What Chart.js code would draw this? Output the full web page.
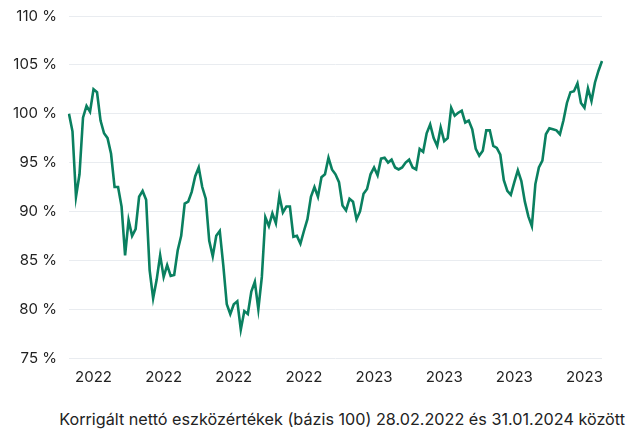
<!DOCTYPE html>
<html>
<head>
<meta charset="utf-8">
<script src="https://cdn.jsdelivr.net/npm/chart.js@4"></script>
<style>
  html, body { margin: 0; padding: 0; background: #fff; }
  #wrap { width: 628px; height: 401px; margin-top: -5px; position: relative; }
  #caption {
    width: 628px; box-sizing: border-box; padding-right: 3px;
    text-align: right; font-family: Inter, sans-serif; font-size: 16.2px;
    color: #222; margin-top: 13px; white-space: nowrap;
  }
</style>
</head>
<body>
<div id="wrap"><canvas id="chart"></canvas></div>
<div id="caption">Korrigált nettó eszközértékek (bázis 100) 28.02.2022 és 31.01.2024 között</div>
<script>
// adjusted NAV, base 100 on 28.02.2022
const navValues = [
    100, 98.2, 91.5, 93.8, 99.6, 100.8, 100.2, 102.5, 102.2, 99.3,
    98, 97.5, 95.9, 92.5, 92.5, 90.5, 85.5, 89.1, 87.5, 88.2,
    91.5, 92.1, 91.2, 84, 81.1, 83, 85.5, 83.3, 84.5, 83.4,
    83.5, 86, 87.5, 90.8, 91, 92, 93.6, 94.5, 92.5, 91.3,
    87, 85.4, 87.5, 88, 84.5, 80.5, 79.5, 80.5, 80.8, 77.9,
    79.8, 79.5, 81.8, 82.8, 80, 83.3, 89.4, 88.5, 89.8, 88.8,
    91.6, 89.9, 90.5, 90.5, 87.4, 87.5, 86.7, 88, 89.2, 91.5,
    92.5, 91.5, 93.5, 93.8, 95.5, 94.3, 93.8, 93, 90.6, 90.1,
    91.3, 91, 89.2, 90, 91.8, 92.3, 93.8, 94.5, 93.7, 95.4,
    95.5, 95, 95.3, 94.5, 94.3, 94.5, 95, 95.3, 94.5, 94.3,
    96.4, 96.1, 98, 98.9, 97.5, 96.7, 98.6, 97.2, 97.5, 100.6,
    99.8, 100.1, 100.3, 99.1, 99.3, 98.4, 96.4, 95.7, 96.2, 98.3,
    98.3, 96.7, 96.5, 95.8, 93.2, 92.1, 91.7, 93, 94.2, 93.1,
    91, 89.5, 88.5, 92.8, 94.5, 95.2, 97.9, 98.5, 98.4, 98.3,
    97.9, 99.3, 101.1, 102.2, 102.3, 103.1, 101.1, 100.6, 102.6, 101.3,
    103.2, 104.4, 105.4
];

// observation dates between 28.02.2022 and 31.01.2024
const startDate = new Date(Date.UTC(2022, 1, 28));
const endDate = new Date(Date.UTC(2024, 0, 31));
const dates = navValues.map((v, i) => {
    const t = startDate.getTime() + (endDate - startDate) * i / (navValues.length - 1);
    return new Date(t).toISOString().slice(0, 10);
});

const xTickLabels = ['2022', '2022', '2022', '2022', '2023', '2023', '2023', '2023'];
const firstTick = 7;
const tickStep = 20;

const yTicks = [75, 80, 85, 90, 95, 100, 105, 110];

const ctx = document.getElementById('chart').getContext('2d');
new Chart(ctx, {
    type: 'line',
    data: {
        labels: dates,
        datasets: [
            {
                data: navValues,
                borderColor: '#0a8060',
                borderWidth: 2.6,
                pointRadius: 0,
                tension: 0,
                fill: false
            }
        ]
    },
    options: {
        responsive: true,
        maintainAspectRatio: false,
        animation: false,
        layout: {
            padding: { left: 1, right: 26, top: 2, bottom: 0 }
        },
        plugins: {
            legend: { display: false },
            tooltip: { enabled: false }
        },
        scales: {
            x: {
                grid: { display: false, drawTicks: false },
                border: { display: false },
                ticks: {
                    autoSkip: false,
                    maxRotation: 0,
                    padding: 10,
                    color: '#222',
                    font: { family: 'Inter', size: 15 },
                    callback: (value, index) => {
                        if (index < firstTick || (index - firstTick) % tickStep !== 0) return null;
                        return xTickLabels[(index - firstTick) / tickStep];
                    }
                }
            },
            y: {
                min: yTicks[0],
                max: yTicks[yTicks.length - 1],
                grid: { color: '#e9ecf0', lineWidth: 1, drawTicks: false },
                border: { display: false },
                ticks: {
                    stepSize: 5,
                    padding: 12,
                    color: '#222',
                    font: { family: 'Inter', size: 15 },
                    callback: (value) => value + ' %'
                }
            }
        }
    }
});
</script>
</body>
</html>
